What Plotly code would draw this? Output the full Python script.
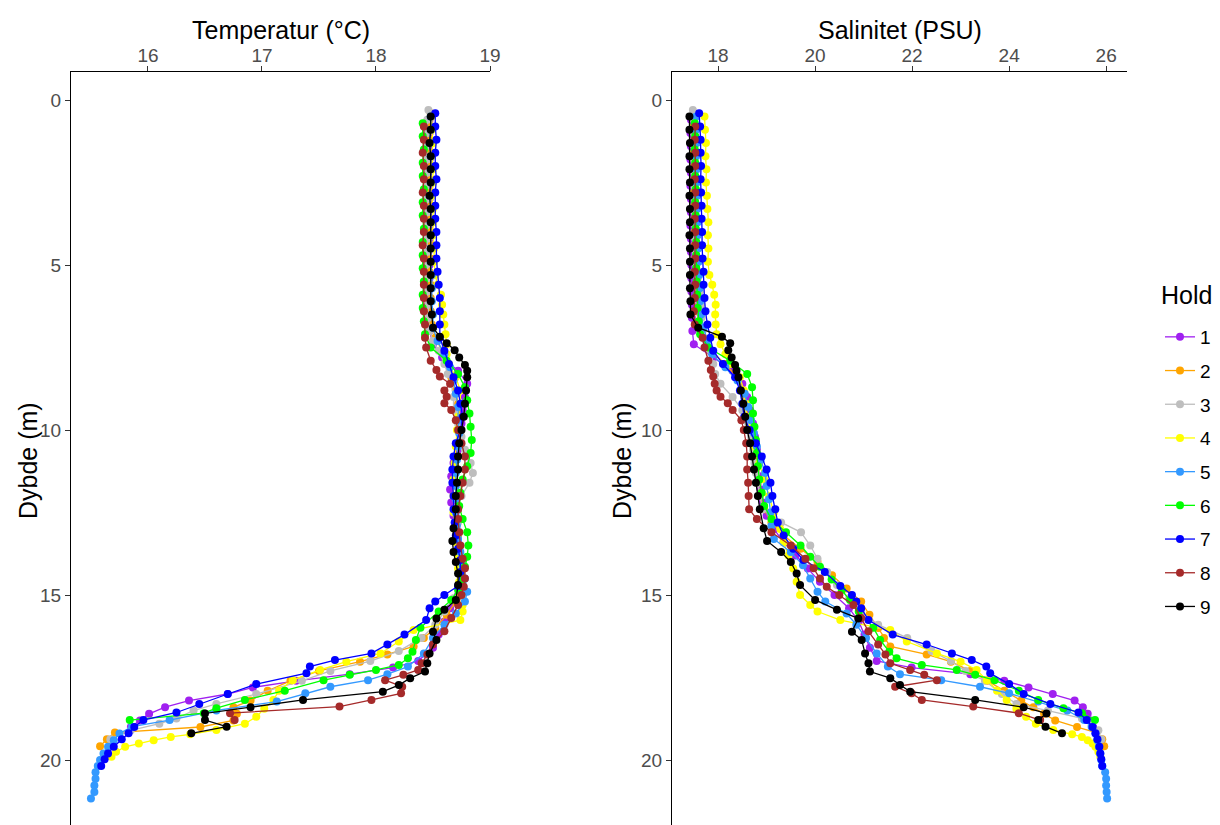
import plotly.graph_objects as go
from plotly.subplots import make_subplots

HOLD_LABELS = ["1", "2", "3", "4", "5", "6", "7", "8", "9"]
HOLD_COLORS = ["#A020F0", "#FFA500", "#BEBEBE", "#FFFF00", "#3399FF",
               "#00FF00", "#0000FF", "#A52A2A", "#000000"]

# ---------------- Hold 1 ----------------
depth_1 = [0.6, 1.0, 1.4, 1.8, 2.2, 2.6, 3.0, 3.4, 3.8, 4.2,
           4.6, 5.0, 5.4, 5.8, 6.2, 6.6, 7.0, 7.4, 7.8, 8.2,
           8.6, 9.0, 9.4, 9.8, 10.2, 10.6, 11.0, 11.4, 11.8, 12.2,
           12.6, 13.0, 13.4, 13.8, 14.2, 14.6, 15.0, 15.4, 15.8, 16.2,
           16.6, 17.0, 17.2, 17.4, 17.6, 17.8, 18.0, 18.2, 18.4, 18.6,
           18.8, 19.0]
temp_1 = [18.47, 18.47, 18.46, 18.47, 18.46, 18.47, 18.47, 18.46, 18.47, 18.47,
          18.46, 18.47, 18.47, 18.46, 18.46, 18.46, 18.47, 18.50, 18.58, 18.72,
          18.80, 18.78, 18.76, 18.75, 18.74, 18.72, 18.68, 18.66, 18.65, 18.66,
          18.68, 18.70, 18.72, 18.73, 18.74, 18.75, 18.72, 18.65, 18.60, 18.55,
          18.50, 18.37, 18.15, 17.77, 17.30, 16.92, 16.70, 16.36, 16.15, 16.01,
          15.93, 15.85]
sal_1 = [17.44, 17.43, 17.44, 17.43, 17.44, 17.43, 17.44, 17.44, 17.43, 17.44,
         17.44, 17.45, 17.45, 17.45, 17.46, 17.46, 17.47, 17.50, 17.90, 18.30,
         18.50, 18.60, 18.66, 18.72, 18.76, 18.80, 18.82, 18.85, 18.88, 18.92,
         19.00, 19.15, 19.35, 19.60, 19.85, 20.10, 20.40, 20.70, 20.90, 21.02,
         21.13, 21.27, 21.99, 23.20, 23.90, 24.40, 24.90, 25.35, 25.52, 25.62,
         25.68, 25.73]

# ---------------- Hold 2 ----------------
depth_2 = [0.4, 0.8, 1.2, 1.6, 2.0, 2.4, 2.8, 3.2, 3.6, 4.0,
           4.4, 4.8, 5.2, 5.6, 6.0, 6.4, 6.8, 7.2, 7.6, 8.0,
           8.4, 8.8, 9.2, 9.6, 10.0, 10.4, 10.8, 11.2, 11.6, 12.0,
           12.4, 12.8, 13.2, 13.6, 14.0, 14.4, 14.8, 15.2, 15.6, 16.0,
           16.3, 16.56, 16.8, 17.02, 17.3, 17.6, 17.9, 18.2, 18.4, 18.6,
           18.8, 19.0, 19.17, 19.37, 19.58]
temp_2 = [18.48, 18.48, 18.47, 18.48, 18.48, 18.47, 18.48, 18.48, 18.47, 18.48,
          18.48, 18.48, 18.47, 18.48, 18.48, 18.48, 18.49, 18.52, 18.58, 18.62,
          18.66, 18.70, 18.72, 18.73, 18.73, 18.72, 18.72, 18.71, 18.71, 18.72,
          18.72, 18.71, 18.72, 18.73, 18.74, 18.74, 18.73, 18.70, 18.62, 18.52,
          18.42, 18.33, 18.10, 17.86, 17.50, 17.25, 17.05, 16.90, 16.75, 16.78,
          16.75, 16.46, 15.71, 15.64, 15.58]
sal_2 = [17.50, 17.50, 17.51, 17.50, 17.51, 17.51, 17.50, 17.51, 17.52, 17.52,
         17.52, 17.53, 17.53, 17.54, 17.55, 17.56, 17.60, 17.70, 17.85, 18.15,
         18.40, 18.50, 18.56, 18.60, 18.65, 18.70, 18.74, 18.78, 18.82, 18.86,
         18.95, 19.10, 19.35, 19.70, 20.05, 20.35, 20.65, 20.95, 21.12, 21.30,
         21.42, 21.55, 22.30, 22.80, 23.20, 23.55, 23.90, 24.25, 24.50, 24.72,
         24.95, 25.40, 25.80, 25.92, 25.96]

# ---------------- Hold 3 ----------------
depth_3 = [0.3, 0.6, 1.0, 1.4, 1.8, 2.2, 2.6, 3.0, 3.4,
           3.8, 4.2, 4.6, 5.0, 5.4, 5.8, 6.2, 6.6, 7.0, 7.3,
           7.6, 8.0, 8.3, 8.6, 9.0, 9.4, 9.8, 10.2, 10.6, 11.0,
           11.3, 11.6, 12.0, 12.4, 12.8, 13.1, 13.5, 13.9, 14.3, 14.7,
           15.1, 15.5, 15.9, 16.3, 16.7, 17.0, 17.3, 17.6, 18.0, 18.3,
           18.5, 18.74, 18.9, 19.1, 19.37]
temp_3 = [18.46, 18.45, 18.45, 18.44, 18.45, 18.45, 18.44, 18.45, 18.45,
          18.44, 18.45, 18.45, 18.44, 18.45, 18.45, 18.46, 18.46, 18.47, 18.50,
          18.55, 18.60, 18.63, 18.66, 18.68, 18.68, 18.72, 18.75, 18.78, 18.83,
          18.85, 18.82, 18.75, 18.72, 18.72, 18.73, 18.74, 18.74, 18.75, 18.74,
          18.68, 18.60, 18.52, 18.40, 18.20, 17.95, 17.60, 17.35, 16.95, 16.60,
          16.40, 16.25, 16.10, 15.85, 15.67]
sal_3 = [17.48, 17.50, 17.50, 17.51, 17.50, 17.51, 17.51, 17.52, 17.52,
         17.53, 17.53, 17.54, 17.55, 17.58, 17.62, 17.65, 17.66, 17.68, 17.75,
         17.85, 17.90, 17.94, 18.05, 18.30, 18.50, 18.62, 18.68, 18.72, 18.75,
         18.78, 18.82, 18.86, 18.92, 19.30, 19.71, 19.90, 20.05, 20.25, 20.45,
         20.70, 20.95, 21.30, 21.90, 22.40, 22.80, 23.10, 23.50, 23.85, 24.15,
         24.80, 25.50, 25.70, 25.84, 25.90]

# ---------------- Hold 4 ----------------
depth_4 = [0.5, 0.9, 1.3, 1.7, 2.1, 2.5, 2.9, 3.3, 3.7, 4.1,
           4.5, 4.9, 5.3, 5.6, 5.9, 6.2, 6.5, 6.8, 7.1, 7.4,
           7.7, 8.0, 8.4, 8.8, 9.2, 9.6, 10.0, 10.5, 11.0, 11.5,
           12.0, 12.5, 13.0, 13.4, 13.8, 14.2, 14.6, 15.0, 15.3, 15.5,
           15.76, 16.06, 16.41, 16.77, 17.02, 17.27, 17.58, 17.9, 18.18, 18.45,
           18.69, 18.9, 19.09, 19.22, 19.3, 19.4, 19.5, 19.6, 19.75, 19.9]
temp_4 = [18.49, 18.49, 18.50, 18.49, 18.50, 18.50, 18.49, 18.50, 18.50, 18.50,
          18.51, 18.51, 18.52, 18.54, 18.57, 18.58, 18.59, 18.60, 18.61, 18.62,
          18.62, 18.64, 18.70, 18.74, 18.74, 18.72, 18.71, 18.70, 18.69, 18.68,
          18.68, 18.68, 18.69, 18.70, 18.72, 18.72, 18.73, 18.75, 18.76, 18.76,
          18.74, 18.33, 18.20, 18.04, 17.74, 17.51, 17.27, 17.15, 17.10, 17.02,
          16.95, 16.85, 16.60, 16.37, 16.20, 16.05, 15.92, 15.80, 15.72, 15.68]
sal_4 = [17.72, 17.73, 17.75, 17.74, 17.76, 17.75, 17.77, 17.78, 17.80, 17.79,
         17.80, 17.79, 17.82, 17.88, 17.92, 17.95, 17.94, 17.95, 17.97, 18.05,
         18.15, 18.28, 18.45, 18.53, 18.57, 18.60, 18.68, 18.75, 18.85, 18.95,
         19.05, 19.15, 19.28, 19.35, 19.45, 19.55, 19.62, 19.69, 19.90, 20.05,
         20.52, 21.55, 21.89, 22.51, 23.00, 23.33, 23.54, 23.75, 23.95, 24.15,
         24.35, 24.55, 24.91, 25.30, 25.50, 25.62, 25.72, 25.78, 25.84, 25.88]

# ---------------- Hold 5 ----------------
depth_5 = [0.5, 0.9, 1.3, 1.7, 2.1, 2.5, 2.9, 3.3, 3.7, 4.1,
           4.5, 4.9, 5.3, 5.7, 6.1, 6.5, 6.9, 7.3, 7.7, 8.1,
           8.5, 8.9, 9.3, 9.7, 10.1, 10.5, 10.9, 11.3, 11.7, 12.1,
           12.5, 12.9, 13.3, 13.7, 14.1, 14.5, 14.9, 15.2, 15.56, 15.9,
           16.3, 16.77, 17.17, 17.4, 17.58, 17.78, 17.98, 18.23, 18.5, 18.79,
           18.99, 19.2, 19.4, 19.6, 19.8, 20.0, 20.18, 20.37, 20.57, 20.77,
           20.97, 21.17]
temp_5 = [18.48, 18.48, 18.47, 18.48, 18.48, 18.48, 18.47, 18.48, 18.48, 18.48,
          18.48, 18.48, 18.49, 18.49, 18.49, 18.50, 18.50, 18.54, 18.60, 18.65,
          18.68, 18.70, 18.72, 18.72, 18.73, 18.72, 18.71, 18.70, 18.70, 18.70,
          18.70, 18.71, 18.72, 18.74, 18.76, 18.78, 18.80, 18.78, 18.70, 18.60,
          18.50, 18.42, 18.28, 18.10, 17.93, 17.60, 17.38, 17.13, 16.60, 16.19,
          15.86, 15.75, 15.70, 15.65, 15.61, 15.58, 15.56, 15.54, 15.54, 15.53,
          15.53, 15.50]
sal_5 = [17.55, 17.55, 17.56, 17.55, 17.56, 17.56, 17.57, 17.57, 17.58, 17.58,
         17.59, 17.60, 17.61, 17.62, 17.63, 17.65, 17.70, 17.78, 17.88, 18.15,
         18.40, 18.55, 18.62, 18.68, 18.74, 18.80, 18.88, 18.97, 19.00, 19.05,
         19.08, 19.10, 19.15, 19.50, 19.75, 19.90, 20.05, 20.21, 20.65, 20.85,
         21.05, 21.27, 21.50, 21.75, 22.60, 23.40, 24.00, 24.60, 25.20, 25.55,
         25.70, 25.78, 25.82, 25.85, 25.88, 25.90, 25.92, 25.98, 26.00, 26.00,
         26.01, 26.02]

# ---------------- Hold 6 ----------------
depth_6 = [0.7, 1.1, 1.5, 1.9, 2.3, 2.7, 3.1, 3.5, 3.9, 4.3,
           4.7, 5.1, 5.5, 5.9, 6.3, 6.7, 7.1, 7.5, 7.9, 8.3,
           8.7, 9.1, 9.5, 9.9, 10.3, 10.7, 11.1, 11.5, 11.9, 12.3,
           12.7, 13.1, 13.5, 13.84, 14.14, 14.53, 14.85, 15.15, 15.5, 15.99,
           16.36, 16.72, 16.92, 17.12, 17.27, 17.42, 17.58, 17.9, 18.18, 18.43,
           18.58, 18.79]
temp_6 = [18.41, 18.41, 18.42, 18.41, 18.41, 18.42, 18.41, 18.41, 18.42, 18.41,
          18.41, 18.41, 18.42, 18.41, 18.41, 18.42, 18.43, 18.48, 18.62, 18.72,
          18.78, 18.80, 18.82, 18.83, 18.84, 18.83, 18.80, 18.76, 18.74, 18.73,
          18.76, 18.80, 18.81, 18.80, 18.78, 18.76, 18.72, 18.66, 18.55, 18.39,
          18.35, 18.32, 18.28, 18.20, 18.00, 17.77, 17.54, 17.20, 16.85, 16.60,
          16.49, 15.84]
sal_6 = [17.52, 17.53, 17.52, 17.53, 17.53, 17.54, 17.53, 17.54, 17.54, 17.55,
         17.55, 17.55, 17.56, 17.57, 17.58, 17.60, 17.63, 17.80, 18.25, 18.60,
         18.70, 18.72, 18.72, 18.75, 18.78, 18.80, 18.82, 18.85, 18.90, 18.95,
         19.10, 19.40, 19.70, 19.90, 20.10, 20.34, 20.55, 20.72, 20.90, 21.20,
         21.34, 21.53, 21.68, 22.20, 22.92, 23.30, 23.70, 24.20, 24.60, 25.12,
         25.50, 25.77]

# ---------------- Hold 7 ----------------
depth_7 = [0.4, 0.8, 1.2, 1.6, 2.0, 2.4, 2.8, 3.2, 3.6, 4.0,
           4.4, 4.8, 5.2, 5.6, 6.0, 6.4, 6.8, 7.2, 7.6, 8.0,
           8.4, 8.8, 9.2, 9.6, 10.0, 10.4, 10.8, 11.2, 11.6, 12.0,
           12.4, 12.8, 13.2, 13.6, 13.94, 14.3, 14.73, 15.0, 15.2, 15.4,
           15.76, 16.2, 16.5, 16.77, 16.97, 17.17, 17.37, 17.7, 18.0, 18.3,
           18.56, 18.79, 19.0, 19.19, 19.37, 19.6, 19.8, 19.98, 20.18]
temp_7 = [18.52, 18.52, 18.53, 18.52, 18.52, 18.53, 18.52, 18.52, 18.52, 18.53,
          18.53, 18.53, 18.54, 18.55, 18.56, 18.56, 18.56, 18.56, 18.60, 18.64,
          18.68, 18.72, 18.74, 18.76, 18.74, 18.70, 18.68, 18.67, 18.67, 18.68,
          18.68, 18.69, 18.70, 18.72, 18.74, 18.74, 18.72, 18.60, 18.52, 18.47,
          18.44, 18.25, 18.10, 17.96, 17.64, 17.42, 17.39, 16.95, 16.70, 16.45,
          16.25, 15.96, 15.88, 15.83, 15.77, 15.70, 15.65, 15.62, 15.59]
sal_7 = [17.61, 17.63, 17.64, 17.64, 17.65, 17.64, 17.65, 17.66, 17.66, 17.67,
         17.67, 17.68, 17.70, 17.70, 17.72, 17.74, 17.78, 17.84, 17.90, 18.10,
         18.35, 18.45, 18.50, 18.54, 18.65, 18.78, 18.90, 19.00, 19.08, 19.12,
         19.18, 19.23, 19.35, 19.55, 19.76, 20.20, 20.52, 20.76, 20.85, 20.95,
         21.10, 21.60, 22.30, 22.82, 23.23, 23.53, 23.61, 24.00, 24.30, 24.85,
         25.43, 25.60, 25.72, 25.78, 25.82, 25.86, 25.88, 25.90, 25.92]

# ---------------- Hold 8 ----------------
depth_8 = [0.8, 1.2, 1.6, 2.0, 2.4, 2.8, 3.2, 3.6, 4.0, 4.4,
           4.8, 5.2, 5.6, 6.0, 6.4, 6.8, 7.2, 7.5, 7.9, 8.18,
           8.38, 8.6, 8.8, 8.99, 9.19, 9.39, 9.7, 10.0, 10.4, 10.8,
           11.2, 11.6, 12.0, 12.4, 12.7, 13.1, 13.5, 13.9, 14.19, 14.5,
           14.75, 15.0, 15.3, 15.7, 16.1, 16.5, 16.8, 17.07, 17.27, 17.42,
           17.58, 17.78, 17.98, 18.18, 18.38, 18.58, 18.79]
temp_8 = [18.42, 18.42, 18.41, 18.42, 18.42, 18.41, 18.42, 18.42, 18.42, 18.41,
          18.42, 18.42, 18.42, 18.42, 18.42, 18.43, 18.43, 18.44, 18.48, 18.53,
          18.56, 18.65, 18.60, 18.62, 18.60, 18.66, 18.70, 18.72, 18.75, 18.78,
          18.78, 18.76, 18.74, 18.72, 18.72, 18.73, 18.74, 18.76, 18.78, 18.78,
          18.77, 18.75, 18.72, 18.66, 18.60, 18.50, 18.45, 18.40, 18.37, 18.24,
          18.08, 18.23, 18.22, 17.96, 17.68, 16.72, 16.76]
sal_8 = [17.53, 17.52, 17.53, 17.53, 17.52, 17.53, 17.53, 17.52, 17.53, 17.53,
         17.53, 17.52, 17.53, 17.52, 17.50, 17.52, 17.68, 17.72, 17.80, 17.85,
         17.90, 17.93, 17.97, 18.05, 18.20, 18.30, 18.48, 18.53, 18.58, 18.60,
         18.60, 18.62, 18.63, 18.64, 18.80, 19.10, 19.50, 19.80, 19.97, 20.10,
         20.24, 20.50, 20.79, 20.95, 21.10, 21.30, 21.45, 21.55, 21.96, 22.25,
         22.51, 21.65, 21.99, 22.20, 23.26, 24.20, 24.64]

# ---------------- Hold 9 ----------------
depth_9 = [0.5, 0.9, 1.3, 1.7, 2.1, 2.5, 2.9, 3.3, 3.7, 4.1,
           4.5, 4.9, 5.3, 5.7, 6.1, 6.5, 6.9, 7.17, 7.37, 7.58,
           7.8, 8.03, 8.2, 8.4, 8.8, 9.2, 9.6, 10.0, 10.4, 10.8,
           11.2, 11.6, 12.0, 12.4, 12.98, 13.36, 13.7, 14.0, 14.35, 14.7,
           15.15, 15.45, 15.71, 16.11, 16.36, 16.77, 17.07, 17.32, 17.52, 17.73,
           17.93, 18.18, 18.4, 18.59, 18.79, 18.99, 19.19]
temp_9 = [18.48, 18.48, 18.47, 18.48, 18.48, 18.48, 18.47, 18.48, 18.48, 18.48,
          18.48, 18.48, 18.48, 18.48, 18.48, 18.49, 18.50, 18.56, 18.62, 18.69,
          18.73, 18.78, 18.80, 18.80, 18.79, 18.78, 18.77, 18.75, 18.73, 18.72,
          18.72, 18.71, 18.70, 18.70, 18.68, 18.67, 18.68, 18.70, 18.72, 18.72,
          18.70, 18.60, 18.53, 18.50, 18.53, 18.47, 18.45, 18.43, 18.30, 18.20,
          18.06, 17.36, 16.90, 16.50, 16.50, 16.69, 16.38]
sal_9 = [17.41, 17.41, 17.42, 17.41, 17.41, 17.42, 17.41, 17.42, 17.42, 17.41,
         17.42, 17.42, 17.42, 17.42, 17.43, 17.43, 17.59, 18.08, 18.25, 18.21,
         18.28, 18.35, 18.38, 18.42, 18.47, 18.52, 18.56, 18.60, 18.66, 18.70,
         18.74, 18.78, 18.82, 18.86, 18.94, 19.01, 19.30, 19.50, 19.62, 19.69,
         20.00, 20.45, 20.89, 20.76, 20.96, 21.03, 21.10, 21.13, 21.55, 21.75,
         21.96, 23.30, 24.30, 24.77, 24.60, 24.75, 25.09]

DEPTHS = [depth_1, depth_2, depth_3, depth_4, depth_5, depth_6, depth_7, depth_8, depth_9]
TEMPS = [temp_1, temp_2, temp_3, temp_4, temp_5, temp_6, temp_7, temp_8, temp_9]
SALS = [sal_1, sal_2, sal_3, sal_4, sal_5, sal_6, sal_7, sal_8, sal_9]

for d, t, s in zip(DEPTHS, TEMPS, SALS):
    assert len(d) == len(t) == len(s), (len(d), len(t), len(s))

TEMP_TICKS = [16, 17, 18, 19]
SAL_TICKS = [18, 20, 22, 24, 26]
DEPTH_TICKS = [0, 5, 10, 15, 20]

FONT = "Liberation Sans, Arial, sans-serif"
W, H = 1220, 825
TOP = 72
PLOT_H = H - TOP


def py(pix):
    """page pixel (from top) -> paper y fraction"""
    return 1 - (pix - TOP) / PLOT_H


def px(pix):
    return pix / W


fig = make_subplots(rows=1, cols=2)

for i in range(9):
    style = dict(mode="lines+markers",
                 line=dict(color=HOLD_COLORS[i], width=1.3),
                 marker=dict(color=HOLD_COLORS[i], size=8),
                 name=HOLD_LABELS[i], legendgroup=HOLD_LABELS[i])
    fig.add_trace(go.Scatter(x=TEMPS[i], y=DEPTHS[i], showlegend=True, **style),
                  row=1, col=1)
    fig.add_trace(go.Scatter(x=SALS[i], y=DEPTHS[i], showlegend=False, **style),
                  row=1, col=2)

axis_common = dict(showline=True, linecolor="black", linewidth=1.1,
                   ticks="outside", ticklen=5, tickcolor="#333333", tickwidth=1.1,
                   showgrid=False, zeroline=False, automargin=False,
                   tickfont=dict(family=FONT, size=19, color="#4D4D4D"))

y_bottom = (H - 100) / 33.0
TITLE_SIZE = 25

title_font = dict(family=FONT, size=TITLE_SIZE, color="black")
annotations = [
    dict(text="Temperatur (°C)", x=px(280.5), y=py(30)),
    dict(text="Salinitet (PSU)", x=px(899.5), y=py(30)),
    dict(text="Dybde (m)", x=px(28), y=py(461), textangle=-90),
    dict(text="Dybde (m)", x=px(622), y=py(461), textangle=-90),
]
for a in annotations:
    a.update(xref="paper", yref="paper", showarrow=False, font=title_font,
             xanchor="center", yanchor="middle")
annotations.append(dict(text="Hold", xref="paper", yref="paper",
                        x=px(1159), y=py(295), xanchor="left", yanchor="middle",
                        showarrow=False, font=title_font))

fig.update_layout(
    width=W, height=H,
    margin=dict(l=0, r=0, t=TOP, b=0, autoexpand=False),
    paper_bgcolor="white", plot_bgcolor="white",
    font=dict(family=FONT, color="black"),
    xaxis=dict(domain=[px(71), px(490)], side="top", range=[15.325, 19.0],
               tickvals=TEMP_TICKS, ticklabelstandoff=-4, **axis_common),
    xaxis2=dict(domain=[px(672), px(1127)], side="top", range=[17.05, 26.43],
                tickvals=SAL_TICKS, ticklabelstandoff=-4, **axis_common),
    yaxis=dict(range=[y_bottom, -0.85], tickvals=DEPTH_TICKS, **axis_common),
    yaxis2=dict(range=[y_bottom, -0.85], tickvals=DEPTH_TICKS, **axis_common),
    legend=dict(font=dict(family=FONT, size=19, color="black"),
                x=px(1160), xanchor="left", y=py(472), yanchor="middle",
                tracegroupgap=6, itemwidth=30, bgcolor="rgba(0,0,0,0)"),
    annotations=annotations,
)

fig.write_html("out.html")
